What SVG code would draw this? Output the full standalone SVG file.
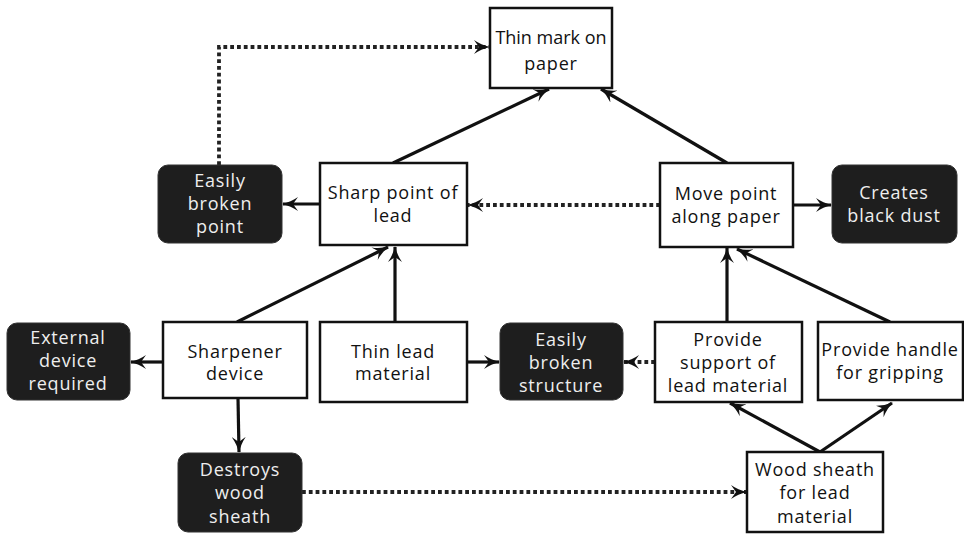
<svg xmlns="http://www.w3.org/2000/svg" width="964" height="536" viewBox="0 0 964 536">
  <defs>
    <marker id="arrow" viewBox="0 0 16 14" refX="15" refY="7" markerWidth="16" markerHeight="14" markerUnits="userSpaceOnUse" orient="auto">
      <path d="M0,0 Q7,5 16,7 Q7,9 0,14 L5,7 z" fill="#111"/>
    </marker>
  </defs>
  <style>
    .box { fill: #fff; stroke: #111; stroke-width: 2.5; }
    .dark { fill: #1e1e1e; stroke: #333; stroke-width: 1; }
    .t, .tw { font-family: "Open Sans", "DejaVu Sans", sans-serif; font-size: 18px; letter-spacing: 0.8px; text-anchor: middle; }
    .t { fill: #111; }
    .tw { fill: #eee; }
    .tight { letter-spacing: 0px; }
    .solid { fill: none; stroke: #111; stroke-width: 3.2; marker-end: url(#arrow); }
    .dotted { fill: none; stroke: #222; stroke-width: 3.8; stroke-dasharray: 3.8 3; marker-end: url(#arrow); }
  </style>
  <rect width="964" height="536" fill="#fff"/>

  <g id="connectors">
    <!-- solid links -->
    <line class="solid" x1="393" y1="163" x2="549" y2="89"/>
    <line class="solid" x1="727" y1="163" x2="601" y2="89"/>
    <line class="solid" x1="320" y1="204" x2="283" y2="204"/>
    <line class="solid" x1="793" y1="205" x2="831" y2="205"/>
    <line class="solid" x1="237" y1="322" x2="388" y2="247"/>
    <line class="solid" x1="395" y1="322" x2="395" y2="247"/>
    <line class="solid" x1="727" y1="322" x2="727" y2="248"/>
    <line class="solid" x1="890" y1="322" x2="737" y2="249"/>
    <line class="solid" x1="163" y1="362" x2="131" y2="362"/>
    <line class="solid" x1="467" y1="362" x2="499" y2="362"/>
    <line class="solid" x1="238" y1="398" x2="239" y2="452"/>
    <line class="solid" x1="820" y1="452" x2="730" y2="403"/>
    <line class="solid" x1="820" y1="452" x2="892" y2="403"/>
    <!-- dotted links -->
    <polyline class="dotted" points="219,165 219,47 489,47"/>
    <line class="dotted" x1="660" y1="205" x2="468" y2="205"/>
    <line class="dotted" x1="655" y1="362" x2="624" y2="362"/>
    <line class="dotted" x1="302" y1="492" x2="746" y2="492"/>
  </g>

  <g id="thin-mark">
    <rect class="box" x="490" y="8" width="122" height="80"/>
    <text class="t tight" x="551" y="44">Thin mark on</text>
    <text class="t" x="551" y="70">paper</text>
  </g>

  <g id="easily-broken-point">
    <rect class="dark" x="158" y="165" width="124" height="78" rx="10"/>
    <text class="tw" x="220" y="187">Easily</text>
    <text class="tw" x="220" y="210">broken</text>
    <text class="tw" x="220" y="233">point</text>
  </g>

  <g id="sharp-point">
    <rect class="box" x="320" y="163" width="147" height="82"/>
    <text class="t" x="393" y="199">Sharp point of</text>
    <text class="t" x="393" y="222">lead</text>
  </g>

  <g id="move-point">
    <rect class="box" x="660" y="163" width="133" height="84"/>
    <text class="t" x="726" y="200">Move point</text>
    <text class="t" x="726" y="223">along paper</text>
  </g>

  <g id="black-dust">
    <rect class="dark" x="832" y="165" width="125" height="78" rx="10"/>
    <text class="tw" x="894" y="199">Creates</text>
    <text class="tw" x="894" y="222">black dust</text>
  </g>

  <g id="external-device">
    <rect class="dark" x="7" y="323" width="123" height="77" rx="10"/>
    <text class="tw" x="68" y="344">External</text>
    <text class="tw" x="68" y="367">device</text>
    <text class="tw" x="68" y="390">required</text>
  </g>

  <g id="sharpener">
    <rect class="box" x="163" y="322" width="144" height="76"/>
    <text class="t" x="235" y="358">Sharpener</text>
    <text class="t" x="235" y="380">device</text>
  </g>

  <g id="thin-lead">
    <rect class="box" x="320" y="322" width="147" height="80"/>
    <text class="t" x="393" y="358">Thin lead</text>
    <text class="t" x="393" y="380">material</text>
  </g>

  <g id="broken-structure">
    <rect class="dark" x="500" y="323" width="123" height="77" rx="10"/>
    <text class="tw" x="561" y="346">Easily</text>
    <text class="tw" x="561" y="369">broken</text>
    <text class="tw" x="561" y="392">structure</text>
  </g>

  <g id="support">
    <rect class="box" x="655" y="322" width="147" height="80"/>
    <text class="t" x="728" y="346">Provide</text>
    <text class="t" x="728" y="369">support of</text>
    <text class="t" x="728" y="392">lead material</text>
  </g>

  <g id="handle">
    <rect class="box" x="818" y="322" width="145" height="78"/>
    <text class="t" x="890" y="356">Provide handle</text>
    <text class="t" x="890" y="379">for gripping</text>
  </g>

  <g id="destroys-sheath">
    <rect class="dark" x="178" y="453" width="124" height="79" rx="10"/>
    <text class="tw" x="240" y="476">Destroys</text>
    <text class="tw" x="240" y="499">wood</text>
    <text class="tw" x="240" y="523">sheath</text>
  </g>

  <g id="wood-sheath">
    <rect class="box" x="747" y="452" width="136" height="80"/>
    <text class="t" x="815" y="476">Wood sheath</text>
    <text class="t" x="815" y="499">for lead</text>
    <text class="t" x="815" y="523">material</text>
  </g>
</svg>
